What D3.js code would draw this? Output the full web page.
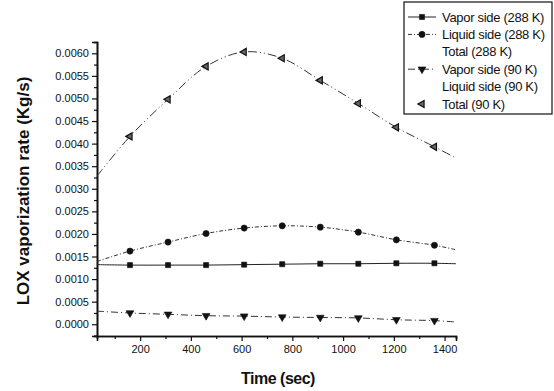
<!DOCTYPE html>
<html>
<head>
<meta charset="utf-8">
<script src="https://cdn.jsdelivr.net/npm/d3@7"></script>
<style>
  body { margin: 0; background: #fff; }
  text { font-family: "Liberation Sans", Arial, sans-serif; fill: #111; }
</style>
</head>
<body>
<div id="chart"></div>
<script>
// time points (sec): curve ends plus marker positions
var time = [30, 160, 310, 460, 610, 760, 910, 1060, 1210, 1360, 1445];
var markerIdx = [1, 2, 3, 4, 5, 6, 7, 8, 9];

var vapor288 = [0.00132, 0.00131, 0.00131, 0.00131, 0.00132, 0.00133, 0.00134, 0.00134, 0.00135, 0.00135, 0.00134];
var liquid288 = [0.00139, 0.00162, 0.00182, 0.00201, 0.00213, 0.00218, 0.00215, 0.00204, 0.00187, 0.00175, 0.00165];
var vapor90 = [0.00029, 0.00025, 0.00022, 0.00019, 0.00018, 0.00016, 0.00015, 0.00014, 0.00010, 0.00008, 0.00005];
var total90 = [0.00328, 0.00416, 0.00498, 0.00571, 0.00603, 0.00589, 0.00540, 0.00489, 0.00436, 0.00393, 0.00368];

var legendLabels = ["Vapor side (288 K)", "Liquid side (288 K)", "Total (288 K)",
                    "Vapor side (90 K)", "Liquid side (90 K)", "Total (90 K)"];
var xTicks = [200, 400, 600, 800, 1000, 1200, 1400];

var width = 554, height = 391;

var svg = d3.select("#chart").append("svg")
  .attr("width", width)
  .attr("height", height);

var x = d3.scaleLinear().domain([30, 1445]).range([97, 456]);
var y = d3.scaleLinear().domain([-0.00026, 0.00625]).range([336, 42]);

// axes
var xAxis = d3.axisBottom(x).tickValues(xTicks).tickFormat(d3.format("d")).tickSize(5).tickPadding(4);
var xMinor = d3.axisBottom(x).tickValues(d3.range(100, 1500, 200)).tickSize(3).tickFormat("");
var yAxis = d3.axisLeft(y).tickValues(d3.range(0, 0.00601, 0.0005))
  .tickFormat(d3.format(".4f")).tickSize(5).tickPadding(3);
var yMinor = d3.axisLeft(y).tickValues(d3.range(-0.00025, 0.0062, 0.0005)).tickSize(3).tickFormat("");

function styleAxis(g) {
  g.select(".domain").attr("stroke", "#111").attr("stroke-width", 1.6);
  g.selectAll(".tick line").attr("stroke", "#111").attr("stroke-width", 1.2);
  g.selectAll("text").attr("font-size", "11px").attr("fill", "#111")
    .attr("font-family", "'Liberation Sans', Arial, sans-serif");
}

svg.append("g").attr("transform", "translate(0,336)").call(xAxis).call(styleAxis);
svg.append("g").attr("transform", "translate(0,336)").call(xMinor).call(styleAxis);
svg.append("g").attr("transform", "translate(97,0)").call(yAxis).call(styleAxis);
svg.append("g").attr("transform", "translate(97,0)").call(yMinor).call(styleAxis);

// axis titles
svg.append("text")
  .attr("x", 278).attr("y", 384)
  .attr("text-anchor", "middle")
  .attr("font-size", "16px").attr("font-weight", "bold")
  .style("letter-spacing", "-0.5px")
  .text("Time (sec)");

svg.append("text")
  .attr("transform", "translate(29,191) rotate(-90)")
  .attr("text-anchor", "middle")
  .attr("font-size", "17px").attr("font-weight", "bold")
  .text("LOX vaporization rate (Kg/s)");

// series
var series = [
  {values: vapor288, dash: null, marker: "square", stroke: "#222", legend: 0},
  {values: liquid288, dash: "4,2,1,2", marker: "circle", stroke: "#333", legend: 1},
  {values: vapor90, dash: "7,3,1,3", marker: "down", stroke: "#333", legend: 3},
  {values: total90, dash: "9,3,1,3,1,3", marker: "left", stroke: "#333", legend: 5}
];

var line = d3.line()
  .x(function(d){return x(d.t);})
  .y(function(d){return y(d.v);})
  .curve(d3.curveCatmullRom);

var symbols = {
  square: d3.symbol().type(d3.symbolSquare).size(26),
  circle: d3.symbol().type(d3.symbolCircle).size(30),
  down: d3.symbol().type(d3.symbolTriangle).size(26),
  left: d3.symbol().type(d3.symbolTriangle).size(22)
};
var rotation = {square: 0, circle: 0, down: 180, left: -90};

function drawMarker(g, type, cx, cy) {
  g.append("path")
    .attr("d", symbols[type]())
    .attr("transform", "translate(" + cx + "," + cy + ") rotate(" + rotation[type] + ")")
    .attr("fill", type == "left" ? "#666" : "#111")
    .attr("stroke", "#111")
    .attr("stroke-width", type == "left" ? 1.2 : 0.6);
}

series.forEach(function(s) {
  var pts = time.map(function(t, i){return {t: t, v: s.values[i]};});
  svg.append("path")
    .datum(pts)
    .attr("d", line)
    .attr("fill", "none")
    .attr("stroke", s.stroke)
    .attr("stroke-width", 1)
    .attr("stroke-dasharray", s.dash);

  var g = svg.append("g");
  markerIdx.forEach(function(i) {
    drawMarker(g, s.marker, x(time[i]), y(s.values[i]));
  });
});

// legend
var legend = svg.append("g");
legend.append("rect")
  .attr("x", 404).attr("y", 2)
  .attr("width", 148).attr("height", 112)
  .attr("fill", "#fff")
  .attr("stroke", "#111")
  .attr("stroke-width", 1.2);

legendLabels.forEach(function(label, i) {
  var ly = 17 + i * 17.4;
  legend.append("text")
    .attr("x", 442).attr("y", ly + 4.5)
    .attr("font-size", "13px")
    .style("letter-spacing", "-0.3px")
    .text(label);
});

series.forEach(function(s) {
  var ly = 17 + s.legend * 17.4;
  if (s.marker != "left") {
    legend.append("line")
      .attr("x1", 408).attr("x2", 436)
      .attr("y1", ly).attr("y2", ly)
      .attr("stroke", s.stroke)
      .attr("stroke-width", 1)
      .attr("stroke-dasharray", s.dash);
  }
  drawMarker(legend, s.marker, 422, ly);
});
</script>
</body>
</html>
